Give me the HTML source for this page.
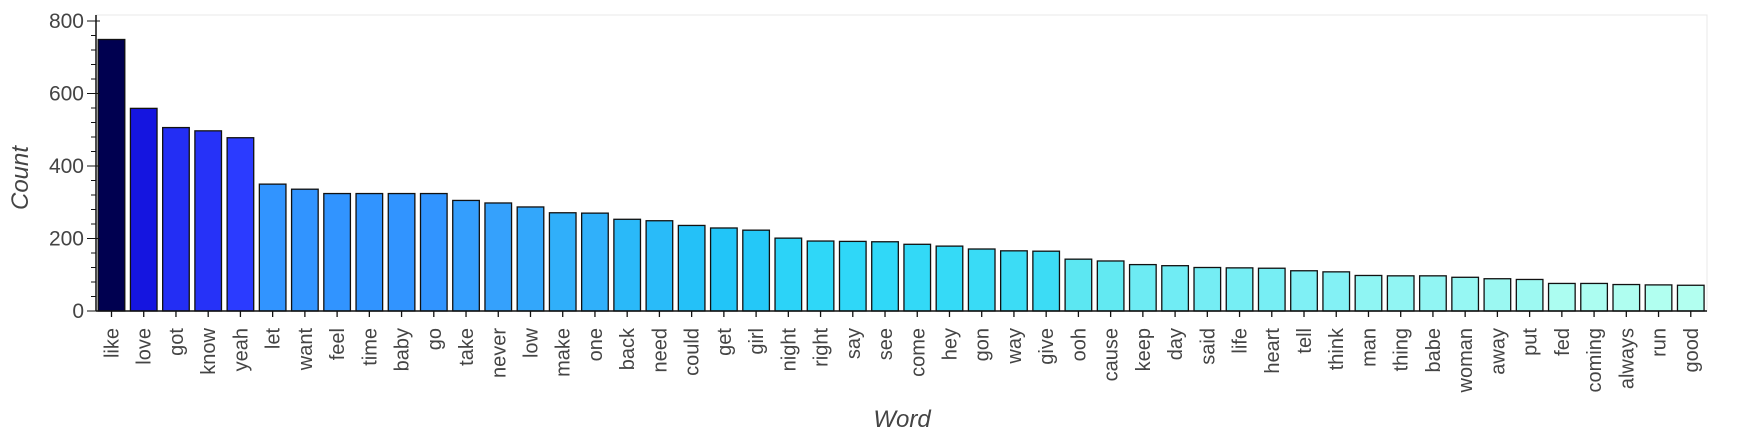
<!DOCTYPE html>
<html><head><meta charset="utf-8"><style>
body{margin:0;background:#fff;width:1749px;height:437px;overflow:hidden;font-family:"Liberation Sans",sans-serif}
</style></head><body>
<svg id="chart" width="1749" height="437" xmlns="http://www.w3.org/2000/svg"></svg>
<script>
const words=["like","love","got","know","yeah","let","want","feel","time","baby","go","take","never","low","make","one","back","need","could","get","girl","night","right","say","see","come","hey","gon","way","give","ooh","cause","keep","day","said","life","heart","tell","think","man","thing","babe","woman","away","put","fed","coming","always","run","good"];
const counts=[749,559,506,497,478,350,336,324,324,324,324,305,298,287,271,270,253,249,236,229,223,201,193,192,191,184,179,171,166,165,143,138,128,125,120,119,118,111,108,98,97,97,93,89,87,76,76,73,72,71];
const yTicks=[0,200,400,600,800];
const colorStops=[[71,[178,255,240]],[110,[128,240,245]],[140,[96,232,242]],[165,[60,220,245]],[190,[48,216,248]],[230,[34,196,248]],[270,[48,176,250]],[300,[53,160,252]],[324,[49,148,255]],[350,[49,148,255]],[478,[43,59,255]],[559,[21,21,224]],[749,[0,0,80]]];
const NS="http://www.w3.org/2000/svg";
const svg=document.getElementById('chart');
const L=96,R=1707,T=15,B=311;
const y=v=>B-v*(290/800);
const step=32.23,x0=111.5;
const xc=i=>x0+i*step;
function col(v){for(let k=1;k<colorStops.length;k++){const [a,ca]=colorStops[k-1],[b,cb]=colorStops[k];if(v<=b){const t=(v-a)/(b-a||1);return 'rgb('+ca.map((c,j)=>Math.round(c+(cb[j]-c)*Math.max(0,t))).join(',')+')';}}return 'rgb(0,0,80)';}
function mk(t,a,txt){const e=document.createElementNS(NS,t);for(const k in a)e.setAttribute(k,a[k]);if(txt!=null)e.textContent=txt;svg.appendChild(e);return e;}
let f=mk('rect',{x:L,y:T,width:R-L,height:B-T,fill:'none',stroke:'#e8e8e8','stroke-width':1});


counts.forEach((v,i)=>{
 const r=mk('rect',{x:xc(i)-13.3,y:y(v),width:26.6,height:B-y(v),fill:col(v),stroke:'#111','stroke-width':1.3});
 
 
 mk('line',{x1:xc(i),x2:xc(i),y1:B,y2:B+6,stroke:'#111','stroke-width':1.3});
 const t=mk('text',{x:0,y:0,transform:`translate(${xc(i)+7},${B+17}) rotate(-90)`,'text-anchor':'end','font-size':20,fill:'#444'},words[i]);
 
 
});
let ax=mk('line',{x1:L,x2:R,y1:B,y2:B,stroke:'#111','stroke-width':1.5});


let ay=mk('line',{x1:L,x2:L,y1:T,y2:B,stroke:'#111','stroke-width':1.5});


for(let v=0;v<=800;v+=40){mk('line',{x1:L-(v%200===0?9:5),x2:L+(v%200===0?4:0),y1:y(v),y2:y(v),stroke:'#111','stroke-width':1});}
yTicks.forEach(v=>{const t=mk('text',{x:L-12,y:y(v)+7,'text-anchor':'end','font-size':21,fill:'#444'},v);
 
 });
let yt=mk('text',{x:0,y:0,transform:'translate(28,178) rotate(-90)','text-anchor':'middle','font-size':24,'font-style':'italic',fill:'#444'},'Count');


let xt=mk('text',{x:902,y:427,'text-anchor':'middle','font-size':24,'font-style':'italic',fill:'#444'},'Word');


</script>
</body></html>
